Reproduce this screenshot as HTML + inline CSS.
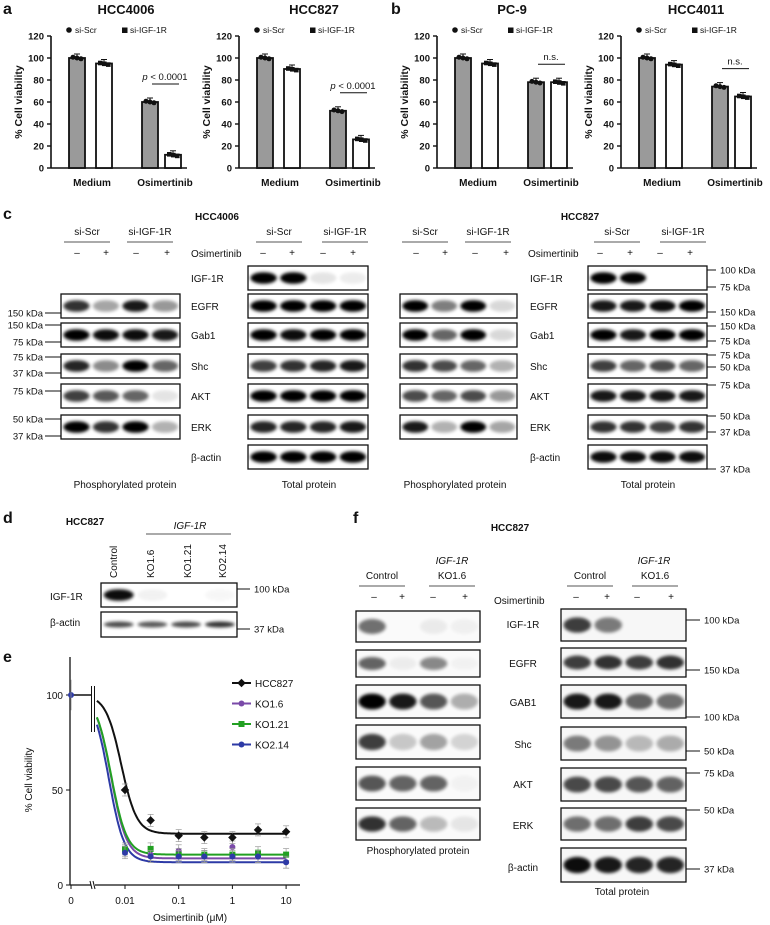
<!DOCTYPE html>
<html><head><meta charset="utf-8">
<style>
html,body{margin:0;padding:0;background:#fff;}
svg{display:block;font-family:"Liberation Sans",Arial,sans-serif;}
</style></head>
<body>
<svg id="fig" width="770" height="925" viewBox="0 0 770 925" xmlns="http://www.w3.org/2000/svg">
<defs>
<filter id="blur" x="-50%" y="-100%" width="200%" height="300%"><feGaussianBlur stdDeviation="1.6"/></filter>
</defs>
<g id="root"></g>
</svg>
<script>
// ---- Bar chart data (panels a, b) ----
const barCategories = ['Medium', 'Osimertinib'];
const a1Scr = [100, 60];
const a1Igf = [95, 12];
const a2Scr = [100, 52];
const a2Igf = [90, 26];
const b1Scr = [100, 78];
const b1Igf = [95, 78];
const b2Scr = [100, 74];
const b2Igf = [94, 65];
const barTicks = [0, 20, 40, 60, 80, 100, 120];
// ---- Dose response data (panel e) ----
const eConc = [0.003, 0.01, 0.03, 0.1, 0.3, 1, 3, 10];
const eHCC827 = [97, 50, 34, 26, 25, 25, 29, 28];
const eKO16 = [95, 18, 16, 18, 15, 20, 15, 12];
const eKO121 = [96, 19, 19, 16, 16, 16, 17, 16];
const eKO214 = [95, 17, 15, 15, 15, 15, 15, 12];
const eBottoms = [27, 14, 16, 12];
const eIC50 = [0.0085, 0.0055, 0.0055, 0.005];
const eXTicks = ['0', '0.01', '0.1', '1', '10'];
const eYTicks = [0, 50, 100];

const NS = 'http://www.w3.org/2000/svg';
const root = document.getElementById('root');
function el(tag, attrs, parent, name, inter) {
  const e = document.createElementNS(NS, tag);
  for (const k in attrs) e.setAttribute(k, attrs[k]);
  
  
  (parent || root).appendChild(e);
  return e;
}
function txt(x, y, s, size, opts, name) {
  opts = opts || {};
  const t = el('text', {x: x, y: y, 'font-size': size, fill: '#111',
    'text-anchor': opts.anchor || 'start', 'font-weight': opts.bold ? 'bold' : 'normal',
    'font-style': opts.italic ? 'italic' : 'normal'}, opts.parent, name || 'label');
  if (opts.rot) t.setAttribute('transform', 'rotate(' + opts.rot + ' ' + x + ' ' + y + ')');
  t.textContent = s;
  return t;
}
function line(x1, y1, x2, y2, w, name, col) {
  return el('line', {x1: x1, y1: y1, x2: x2, y2: y2, stroke: col || '#111', 'stroke-width': w || 1}, null, name || 'line');
}

// panel letters
txt(3, 14, 'a', 16, {bold: true}, 'panel-label-a');
txt(391, 14, 'b', 16, {bold: true}, 'panel-label-b');
txt(3, 219, 'c', 16, {bold: true}, 'panel-label-c');
txt(3, 523, 'd', 16, {bold: true}, 'panel-label-d');
txt(3, 662, 'e', 16, {bold: true}, 'panel-label-e');
txt(353, 523, 'f', 16, {bold: true}, 'panel-label-f');

// ---- bar charts ----
function barChart(ax, title, scr, igf, sig) {
  const y0 = 168, k = 1.1;
  const ys = v => y0 - v * k;
  txt(ax + 75, 14, title, 13, {bold: true, anchor: 'middle'}, 'chart-title');
  el('circle', {cx: ax + 18, cy: 30, r: 2.8, fill: '#111'}, null, 'legend-marker-si-scr');
  txt(ax + 24, 33, 'si-Scr', 8.5, {}, 'legend-entry-si-scr');
  el('rect', {x: ax + 71, y: 27.5, width: 5.5, height: 5.5, fill: '#111'}, null, 'legend-marker-si-igf1r');
  txt(ax + 79, 33, 'si-IGF-1R', 8.5, {}, 'legend-entry-si-igf1r');
  line(ax, ys(120), ax, y0, 1.6, 'y-axis');
  line(ax, y0, ax + 136, y0, 1.6, 'x-axis');
  barTicks.forEach(t => {
    line(ax - 4, ys(t), ax, ys(t), 1.4, 'y-tick');
    txt(ax - 7, ys(t) + 3.5, String(t), 9.5, {bold: true, anchor: 'end'}, 'y-tick-label');
  });
  txt(ax - 29, 102, '% Cell viability', 10.5, {bold: true, anchor: 'middle', rot: -90}, 'y-axis-title');
  const offs = [[18, 45], [91, 114]];
  barCategories.forEach((c, i) => {
    const vals = [scr[i], igf[i]];
    vals.forEach((v, j) => {
      const x = ax + offs[i][j];
      el('rect', {x: x, y: ys(v), width: 16, height: v * k, fill: j === 0 ? '#9a9a9a' : '#fff', stroke: '#111', 'stroke-width': 1.8}, null, 'bar-' + (j === 0 ? 'si-scr' : 'si-igf1r') + '-' + c.toLowerCase());
      line(x + 8, ys(v) - 4, x + 8, ys(v), 1, 'error-bar');
      line(x + 5, ys(v) - 4, x + 11, ys(v) - 4, 1, 'error-cap');
      [-4, 0, 4].forEach((d, n) => {
        if (j === 0) el('circle', {cx: x + 8 + d, cy: ys(v) + (n - 1) * 0.8, r: 2.5, fill: '#111'}, null, 'data-point');
        else el('rect', {x: x + 6 + d, y: ys(v) - 2 + (n - 1) * 0.8, width: 4.6, height: 4.6, fill: '#111'}, null, 'data-point');
      });
    });
    txt(ax + (i === 0 ? 41 : 114), 186, c, 10, {bold: true, anchor: 'middle'}, 'x-tick-label');
  });
  const sy = ys(Math.max(scr[1], igf[1])) - 18;
  line(ax + 101, sy, ax + 128, sy, 1, 'significance-line');
  if (sig === 'p') {
    const t = txt(ax + 114, sy - 4, '', 9.5, {anchor: 'middle'}, 'p-value-label');
    t.innerHTML = '<tspan font-style="italic">p</tspan> &lt; 0.0001';
  } else txt(ax + 114, sy - 4, 'n.s.', 9.5, {anchor: 'middle'}, 'ns-label');
}
barChart(51, 'HCC4006', a1Scr, a1Igf, 'p');
barChart(239, 'HCC827', a2Scr, a2Igf, 'p');
barChart(437, 'PC-9', b1Scr, b1Igf, 'ns');
barChart(621, 'HCC4011', b2Scr, b2Igf, 'ns');

// ---- western blots ----
function blot(x, y, w, h, ints, name, bg, bandH) {
  el('rect', {x: x, y: y, width: w, height: h, fill: bg || '#fff', stroke: '#111', 'stroke-width': 1.3}, null, name);
  ints.forEach((v, i) => {
    if (v <= 0) return;
    const cx = x + w * (0.13 + 0.248 * i);
    el('ellipse', {cx: cx, cy: y + h / 2, rx: w * 0.11, ry: (bandH || h * 0.24), fill: '#000', opacity: v, filter: 'url(#blur)'}, null, name + '-band');
  });
}
function header(x0, names, yTxt, marks) {
  names.forEach(n => {
    txt(n[0], yTxt, n[1], 10, {anchor: 'middle'}, 'group-label');
    line(n[0] - 23, yTxt + 7, n[0] + 23, yTxt + 7, 1, 'group-underline', '#555');
  });
  marks.forEach((m, i) => txt(m, yTxt + 21, i % 2 ? '+' : '\u2013', 10, {anchor: 'middle'}, 'treatment-mark'));
}
function kda(xl, xr, y, s, left) {
  line(xl, y, xr, y, 1, 'kda-tick');
  if (left) txt(xl - 2, y + 3.5, s, 9.5, {anchor: 'end'}, 'kda-label');
  else txt(xr + 4, y + 3.5, s, 9.5, {}, 'kda-label');
}
const rowNames = ['IGF-1R', 'EGFR', 'Gab1', 'Shc', 'AKT', 'ERK', '\u03b2-actin'];
txt(217, 220, 'HCC4006', 10, {bold: true, anchor: 'middle'}, 'blot-title-hcc4006');
header(0, [[87, 'si-Scr'], [150, 'si-IGF-1R'], [279, 'si-Scr'], [345, 'si-IGF-1R']], 235, [77, 106, 136, 167, 263, 292, 323, 353]);
txt(191, 257, 'Osimertinib', 10, {}, 'treatment-label');
const cRowsY = [266, 294, 323, 354, 384, 415, 445];
rowNames.forEach((r, i) => txt(191, cRowsY[i] + 16, r, 10, {}, 'protein-label'));
const c1Phos = [[.8, .35, .9, .4], [1, .95, .95, .9], [.85, .45, 1, .6], [.75, .65, .6, .1], [1, .8, 1, .3]];
c1Phos.forEach((b, i) => blot(61, cRowsY[i + 1], 119, 24, b, 'phospho-blot-hcc4006'));
const c1Tot = [[1, 1, .1, .07], [1, 1, 1, 1], [1, .95, 1, 1], [.75, .8, .85, .9], [1, 1, 1, 1], [.85, .85, .85, .9], [1, 1, 1, 1]];
c1Tot.forEach((b, i) => blot(248, cRowsY[i], 120, 24, b, 'total-blot-hcc4006'));
kda(45, 61, 313, '150 kDa', true); kda(45, 61, 325, '150 kDa', true); kda(45, 61, 342, '75 kDa', true);
kda(45, 61, 357, '75 kDa', true); kda(45, 61, 373, '37 kDa', true); kda(45, 61, 391, '75 kDa', true);
kda(45, 61, 419, '50 kDa', true); kda(45, 61, 436, '37 kDa', true);
txt(125, 488, 'Phosphorylated protein', 10, {anchor: 'middle'}, 'phospho-caption');
txt(309, 488, 'Total protein', 10, {anchor: 'middle'}, 'total-caption');
txt(580, 220, 'HCC827', 10, {bold: true, anchor: 'middle'}, 'blot-title-hcc827');
header(0, [[425, 'si-Scr'], [488, 'si-IGF-1R'], [617, 'si-Scr'], [683, 'si-IGF-1R']], 235, [416, 445, 475, 506, 600, 630, 660, 690]);
txt(528, 257, 'Osimertinib', 10, {}, 'treatment-label');
rowNames.forEach((r, i) => txt(530, cRowsY[i] + 16, r, 10, {}, 'protein-label'));
const c2Phos = [[1, .5, 1, .15], [1, .6, 1, .15], [.8, .7, .6, .3], [.7, .6, .7, .4], [.9, .3, 1, .35]];
c2Phos.forEach((b, i) => blot(400, cRowsY[i + 1], 117, 24, b, 'phospho-blot-hcc827'));
const c2Tot = [[1, 1, 0, 0], [.9, .9, .95, 1], [1, .9, 1, 1], [.75, .6, .7, .6], [.9, .9, .9, .9], [.8, .8, .75, .8], [.95, .95, .95, .95]];
c2Tot.forEach((b, i) => blot(588, cRowsY[i], 119, 24, b, 'total-blot-hcc827'));
[[270, '100 kDa'], [287, '75 kDa'], [312, '150 kDa'], [326, '150 kDa'], [341, '75 kDa'], [355, '75 kDa'], [367, '50 kDa'], [385, '75 kDa'], [416, '50 kDa'], [432, '37 kDa'], [469, '37 kDa']].forEach(k => kda(707, 716, k[0], k[1]));
txt(455, 488, 'Phosphorylated protein', 10, {anchor: 'middle'}, 'phospho-caption');
txt(648, 488, 'Total protein', 10, {anchor: 'middle'}, 'total-caption');

// ---- panel d ----
txt(85, 525, 'HCC827', 10, {bold: true, anchor: 'middle'}, 'blot-title-d');
txt(190, 529, 'IGF-1R', 10, {italic: true, anchor: 'middle'}, 'gene-label');
line(146, 534, 231, 534, 1, 'gene-underline', '#555');
[[117, 'Control'], [154, 'KO1.6'], [191, 'KO1.21'], [226, 'KO2.14']].forEach(l => txt(l[0], 578, l[1], 10, {rot: -90}, 'lane-label'));
blot(101, 583, 136, 24, [.95, .05, 0, .03], 'blot-d-igf1r');
blot(101, 612, 136, 25, [.7, .65, .7, .8], 'blot-d-actin', null, 3);
txt(50, 600, 'IGF-1R', 10, {}, 'protein-label');
txt(50, 626, '\u03b2-actin', 10, {}, 'protein-label');
kda(237, 250, 589, '100 kDa'); kda(237, 250, 629, '37 kDa');

// ---- panel e dose response ----
const ex = v => 125 + 53.7 * (Math.log10(v) + 2);
const ey = v => 885 - 1.9 * v;
line(70, 657, 70, 885, 1.3, 'e-y-axis');
line(70, 885, 91, 885, 1.3, 'e-x-axis-left');
line(95, 885, 300, 885, 1.3, 'e-x-axis');
line(90, 881, 92, 889, 1, 'axis-break'); line(93, 881, 95, 889, 1, 'axis-break');
eYTicks.forEach(t => { line(66, ey(t), 70, ey(t), 1, 'y-tick'); txt(63, ey(t) + 4, String(t), 10, {anchor: 'end'}, 'y-tick-label'); });
eXTicks.forEach((t, i) => {
  const x = i === 0 ? 71 : ex(Math.pow(10, i - 3));
  line(x, 885, x, 889, 1, 'x-tick');
  txt(x, 904, t, 10, {anchor: 'middle'}, 'x-tick-label');
});
txt(190, 921, 'Osimertinib (\u03bcM)', 10, {anchor: 'middle'}, 'x-axis-title');
txt(32, 780, '% Cell viability', 10, {anchor: 'middle', rot: -90}, 'y-axis-title');
line(91.5, 686, 91.5, 732, 1, 'axis-break-mark'); line(94.5, 686, 94.5, 732, 1, 'axis-break-mark');
const eSeries = [eHCC827, eKO16, eKO121, eKO214];
const eCols = ['#111', '#7a4aa8', '#22a022', '#2d3aa6'];
const eNames = ['HCC827', 'KO1.6', 'KO1.21', 'KO2.14'];
const order = [1, 2, 3, 0];
order.forEach(s => {
  let d = '';
  for (let lx = Math.log10(0.003); lx <= 1.001; lx += 0.02) {
    const c = Math.pow(10, lx);
    const v = eBottoms[s] + (100 - eBottoms[s]) / (1 + Math.pow(c / eIC50[s], 3));
    d += (d ? 'L' : 'M') + ex(c).toFixed(1) + ',' + ey(v).toFixed(1);
  }
  el('path', {d: d, fill: 'none', stroke: eCols[s], 'stroke-width': 2}, null, 'fit-curve-' + eNames[s].toLowerCase());
});
line(71, ey(100), 92, ey(100), 1.5, 'control-line');
el('circle', {cx: 71, cy: ey(100), r: 3, fill: '#2d3aa6'}, null, 'control-point');
line(71, ey(108), 71, ey(92), 0.8, 'control-error', '#888');
order.forEach(s => {
  eSeries[s].forEach((v, i) => {
    if (i === 0) return;
    const x = ex(eConc[i]), y = ey(v);
    line(x, y - 6, x, y + 6, 0.7, 'error-bar', '#999');
    line(x - 3, y - 6, x + 3, y - 6, 0.7, 'error-cap', '#999');
    line(x - 3, y + 6, x + 3, y + 6, 0.7, 'error-cap', '#999');
    if (s === 0) el('rect', {x: x - 3, y: y - 3, width: 6, height: 6, fill: '#111', transform: 'rotate(45 ' + x + ' ' + y + ')'}, null, 'point-hcc827');
    else if (s === 2) el('rect', {x: x - 3, y: y - 3, width: 6, height: 6, fill: eCols[s]}, null, 'point-ko121');
    else el('circle', {cx: x, cy: y, r: 3, fill: eCols[s]}, null, 'point-' + eNames[s].toLowerCase());
  });
});
eNames.forEach((n, i) => {
  const y = 683 + i * 20.5;
  line(232, y, 251, y, 2, 'legend-line', eCols[i]);
  if (i === 0) el('rect', {x: 238.5, y: y - 3, width: 6, height: 6, fill: '#111', transform: 'rotate(45 241.5 ' + y + ')'}, null, 'legend-marker');
  else if (i === 2) el('rect', {x: 238.5, y: y - 3, width: 6, height: 6, fill: eCols[i]}, null, 'legend-marker');
  else el('circle', {cx: 241.5, cy: y, r: 3, fill: eCols[i]}, null, 'legend-marker');
  txt(255, y + 4, n, 10, {}, 'legend-entry-' + n.toLowerCase());
});

// ---- panel f ----
txt(510, 531, 'HCC827', 10, {bold: true, anchor: 'middle'}, 'blot-title-f');
[[452, 564], [654, 564]].forEach(p => txt(p[0], p[1], 'IGF-1R', 10, {italic: true, anchor: 'middle'}, 'gene-label'));
header(0, [[382, 'Control'], [452, 'KO1.6'], [590, 'Control'], [655, 'KO1.6']], 579, [374, 402, 433, 465, 576, 607, 637, 671]);
txt(494, 604, 'Osimertinib', 10, {}, 'treatment-label');
const fRowsY = [[611, 31], [650, 27], [685, 33], [725, 34], [767, 33], [808, 32]];
const fRowsT = [[609, 32], [648, 29], [685, 33], [727, 33], [768, 33], [808, 32], [848, 34]];
const fNames = ['IGF-1R', 'EGFR', 'GAB1', 'Shc', 'AKT', 'ERK', '\u03b2-actin'];
const fLabelY = [628, 667, 706, 748, 788, 829, 871];
fNames.forEach((n, i) => txt(523, fLabelY[i], n, 10, {anchor: 'middle'}, 'protein-label'));
const fPhos = [[.55, 0, .06, .04], [.6, .05, .45, .03], [1, .9, .65, .3], [.75, .2, .35, .15], [.65, .6, .6, .03], [.8, .6, .25, .08]];
fPhos.forEach((b, i) => blot(356, fRowsY[i][0], 124, fRowsY[i][1], b, 'phospho-blot-f', '#fafafa'));
const fTot = [[.75, .5, 0, 0], [.75, .8, .75, .8], [.9, .9, .6, .55], [.5, .4, .25, .3], [.7, .7, .65, .6], [.55, .55, .75, .7], [.95, .9, .85, .85]];
fTot.forEach((b, i) => blot(561, fRowsT[i][0], 125, fRowsT[i][1], b, 'total-blot-f', '#f7f7f7'));
[[620, '100 kDa'], [670, '150 kDa'], [717, '100 kDa'], [751, '50 kDa'], [773, '75 kDa'], [810, '50 kDa'], [869, '37 kDa']].forEach(k => kda(686, 700, k[0], k[1]));
txt(418, 854, 'Phosphorylated protein', 10, {anchor: 'middle'}, 'phospho-caption');
txt(622, 895, 'Total protein', 10, {anchor: 'middle'}, 'total-caption');
</script>
</body></html>
